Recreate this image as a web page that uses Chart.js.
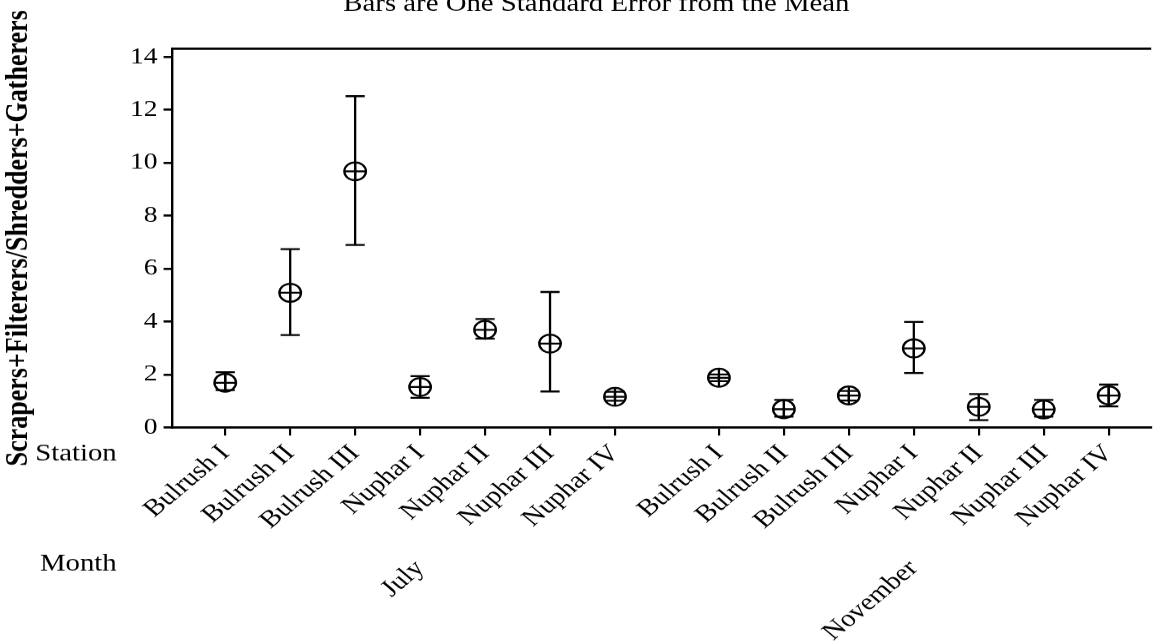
<!DOCTYPE html>
<html>
<head>
<meta charset="utf-8">
<title>Scrapers+Filterers/Shredders+Gatherers</title>
<script src="https://cdn.jsdelivr.net/npm/chart.js@4.4.1/dist/chart.umd.min.js"></script>
<style>
  html, body { margin: 0; padding: 0; background: #fff; }
</style>
</head>
<body>
<canvas id="chart" width="970" height="644" style="display:block;width:1164px;height:644px"></canvas>
<script>
// data
var months = ['July', 'November'];
var stations = ['Bulrush I', 'Bulrush II', 'Bulrush III', 'Nuphar I', 'Nuphar II', 'Nuphar III', 'Nuphar IV'];

var julyMean = [1.69, 5.09, 9.68, 1.53, 3.69, 3.17, 1.16];
var julyLow  = [1.41, 3.49, 6.90, 1.12, 3.36, 1.36, 1.01];
var julyHigh = [2.09, 6.74, 12.52, 1.94, 4.10, 5.12, 1.35];

var novMean = [1.88, 0.69, 1.21, 2.99, 0.78, 0.68, 1.21];
var novLow  = [1.75, 0.41, 1.02, 2.06, 0.28, 0.41, 0.80];
var novHigh = [2.00, 1.04, 1.38, 3.99, 1.26, 1.04, 1.62];

var yTicks = [0, 2, 4, 6, 8, 10, 12, 14];

var means = [julyMean, novMean];
var lows = [julyLow, novLow];
var highs = [julyHigh, novHigh];

var GROUP_GAP = 0.6;
var FONT = '"Liberation Serif", "Times New Roman", serif';

function stationPos(m, i) {
    return m * (stations.length + GROUP_GAP) + i;
}

var points = [];
var stationTicks = [];
var monthTicks = [];
months.forEach(function (mo, m) {
    stations.forEach(function (st, i) {
        points.push({ x: stationPos(m, i), y: means[m][i] });
        stationTicks.push({ value: stationPos(m, i) });
    });
    monthTicks.push({ value: stationPos(m, (stations.length - 1) / 2) });
});

var xMin = -0.82, xMax = 14.25;

// error bars, drawn with the chart's own scales
var errorBars = {
    id: 'errorBars',
    beforeDatasetsDraw: function (chart) {
        var ctx = chart.ctx;
        var xs = chart.scales.x, ys = chart.scales.y;
        ctx.save();
        ctx.strokeStyle = '#000';
        ctx.lineWidth = 1.9;
        months.forEach(function (mo, m) {
            stations.forEach(function (st, i) {
                var px = xs.getPixelForValue(stationPos(m, i));
                var yl = ys.getPixelForValue(lows[m][i]);
                var yh = ys.getPixelForValue(highs[m][i]);
                ctx.beginPath();
                ctx.moveTo(px, yl); ctx.lineTo(px, yh);
                ctx.moveTo(px - 8, yl); ctx.lineTo(px + 8, yl);
                ctx.moveTo(px - 8, yh); ctx.lineTo(px + 8, yh);
                ctx.stroke();
            });
        });
        ctx.restore();
    }
};

// header text and the row names at the left
var extraText = {
    id: 'extraText',
    afterDraw: function (chart) {
        var ctx = chart.ctx;
        var area = chart.chartArea;
        ctx.save();
        ctx.fillStyle = '#000';
        ctx.textBaseline = 'alphabetic';
        ctx.textAlign = 'center';
        ctx.font = '24px ' + FONT;
        ctx.fillText('Bars are One Standard Error from the Mean', chart.width / 2 + 12, 11);

        ctx.textAlign = 'right';
        ctx.textBaseline = 'middle';
        ctx.font = '24px ' + FONT;
        ctx.fillText('Station', area.left - 46, chart.scales.x.top + 27);
        ctx.fillText('Month', area.left - 46, chart.scales.month.top + 21);
        ctx.restore();
    }
};

var ctx = document.getElementById('chart');
var chart = new Chart(ctx, {
    type: 'scatter',
    data: {
        datasets: [
            {
                data: points,
                pointStyle: 'circle',
                pointRadius: 9,
                borderColor: '#000',
                backgroundColor: 'rgba(0,0,0,0)',
                pointBorderWidth: 1.9,
                showLine: false
            },
            {
                data: points,
                pointStyle: 'cross',
                pointRadius: 9,
                borderColor: '#000',
                pointBorderWidth: 1.9,
                showLine: false
            }
        ]
    },
    options: {
        responsive: false,
        devicePixelRatio: 1.2,
        animation: false,
        events: [],
        layout: { padding: { top: 41, left: 0, right: 0, bottom: 0 } },
        plugins: {
            legend: { display: false },
            tooltip: { enabled: false },
            title: { display: false }
        },
        scales: {
            x: {
                type: 'linear',
                position: 'bottom',
                weight: 0,
                min: xMin,
                max: xMax,
                afterBuildTicks: function (scale) { scale.ticks = stationTicks.slice(); },
                afterFit: function (scale) { scale.height = 116; },
                ticks: {
                    autoSkip: false,
                    minRotation: 45,
                    maxRotation: 45,
                    padding: 4,
                    color: '#000',
                    font: { family: FONT, size: 24 },
                    callback: function (v, i) { return stations[i % stations.length]; }
                },
                grid: { display: true, drawOnChartArea: false, drawTicks: true, tickLength: 8, color: '#000', lineWidth: 1.8 },
                border: { display: true, color: '#000', width: 2.2 }
            },
            month: {
                type: 'linear',
                axis: 'x',
                position: 'bottom',
                weight: 1,
                min: xMin,
                max: xMax,
                afterBuildTicks: function (scale) { scale.ticks = monthTicks.slice(); },
                afterFit: function (scale) { scale.height = 101; },
                ticks: {
                    autoSkip: false,
                    minRotation: 45,
                    maxRotation: 45,
                    padding: 3,
                    color: '#000',
                    font: { family: FONT, size: 24 },
                    callback: function (v, i) { return months[i]; }
                },
                grid: { display: false },
                border: { display: false }
            },
            xTop: {
                type: 'linear',
                axis: 'x',
                position: 'top',
                min: xMin,
                max: xMax,
                ticks: { display: false },
                grid: { display: false },
                border: { display: true, color: '#000', width: 2.2 }
            },
            y: {
                type: 'linear',
                min: 0,
                max: 14.3,
                afterFit: function (scale) { scale.width = 143.3; },
                afterBuildTicks: function (scale) {
                    scale.ticks = yTicks.map(function (v) { return { value: v }; });
                },
                ticks: {
                    padding: 5,
                    color: '#000',
                    font: { family: FONT, size: 23 }
                },
                grid: { display: true, drawOnChartArea: false, drawTicks: true, tickLength: 7, color: '#000', lineWidth: 2.2 },
                border: { display: true, color: '#000', width: 2 },
                title: {
                    display: true,
                    text: 'Scrapers+Filterers/Shredders+Gatherers',
                    color: '#000',
                    font: { family: FONT, size: 26, weight: 'bold' },
                    padding: { top: 0, bottom: 0 }
                }
            }
        }
    },
    plugins: [errorBars, extraText]
});
</script>
</body>
</html>
